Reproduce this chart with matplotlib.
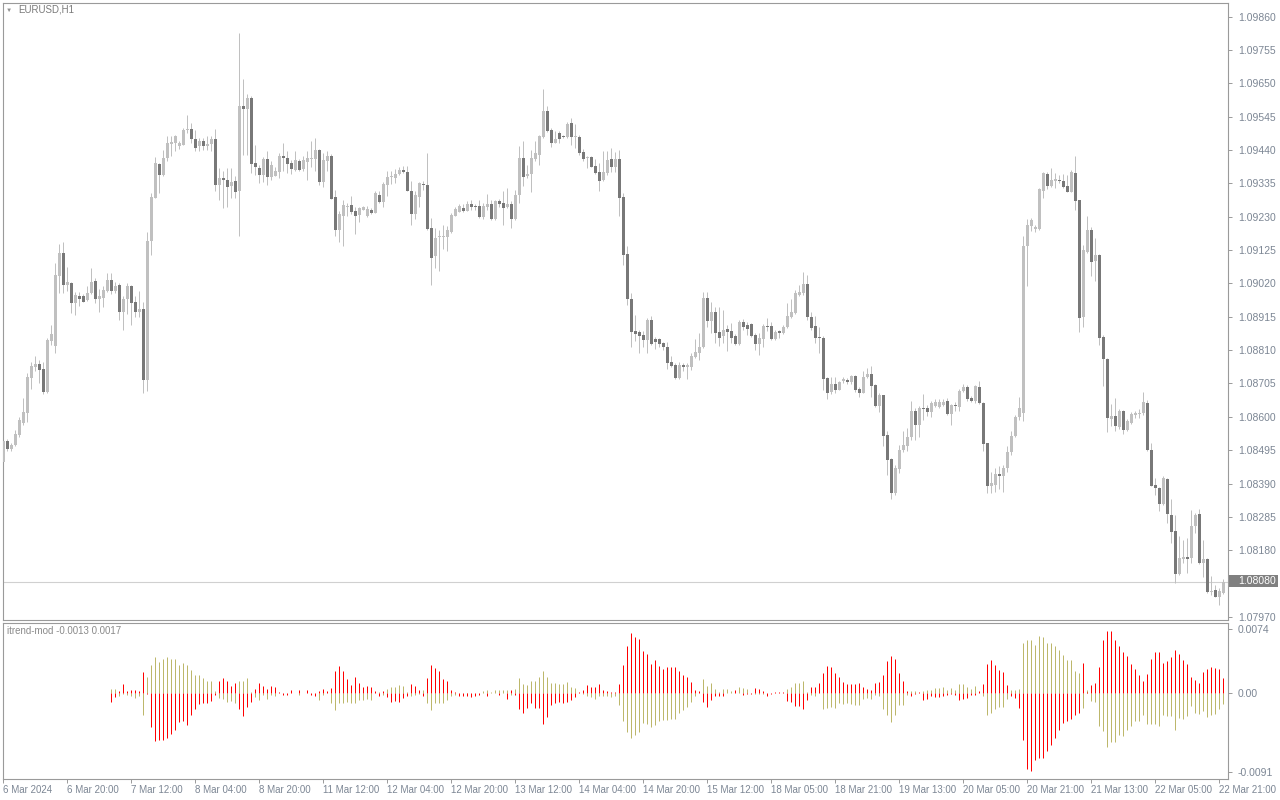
import numpy as np
import matplotlib
matplotlib.use("Agg")
import matplotlib.pyplot as plt

plt.rcParams['font.family'] = ['Liberation Sans', 'DejaVu Sans']

# EURUSD H1, barras de 6 Mar 2024 04:00 ate 22 Mar 2024 22:00
opens = [
    1.08458, 1.08524, 1.08499, 1.08512, 1.08543, 1.08581, 1.08613, 1.08723, 1.08758, 1.08767,
    1.08751, 1.08679, 1.08839, 1.08824, 1.09044, 1.09117, 1.09016, 1.09022, 1.08959, 1.08981,
    1.08981, 1.08969, 1.08991, 1.09028, 1.08972, 1.08975, 1.08997, 1.09032, 1.08997, 1.09016,
    1.08931, 1.08972, 1.09013, 1.08962, 1.08931, 1.08940, 1.08717, 1.09152, 1.09290, 1.09397,
    1.09362, 1.09416, 1.09460, 1.09463, 1.09451, 1.09457, 1.09504, 1.09507, 1.09476, 1.09451,
    1.09469, 1.09451, 1.09460, 1.09473, 1.09331, 1.09353, 1.09347, 1.09328, 1.09343, 1.09312,
    1.09577, 1.09570, 1.09605, 1.09400, 1.09384, 1.09362, 1.09413, 1.09356, 1.09359, 1.09372,
    1.09422, 1.09416, 1.09400, 1.09378, 1.09406, 1.09381, 1.09403, 1.09413, 1.09413, 1.09441,
    1.09340, 1.09406, 1.09422, 1.09293, 1.09189, 1.09233, 1.09262, 1.09268, 1.09249, 1.09236,
    1.09252, 1.09233, 1.09252, 1.09243, 1.09299, 1.09277, 1.09331, 1.09354, 1.09353, 1.09365,
    1.09378, 1.09372, 1.09312, 1.09239, 1.09293, 1.09334, 1.09331, 1.09195, 1.09107, 1.09167,
    1.09167, 1.09167, 1.09183, 1.09233, 1.09246, 1.09258, 1.09249, 1.09271, 1.09265, 1.09265,
    1.09230, 1.09262, 1.09271, 1.09224, 1.09280, 1.09274, 1.09262, 1.09271, 1.09224, 1.09299,
    1.09416, 1.09359, 1.09365, 1.09413, 1.09425, 1.09482, 1.09564, 1.09504, 1.09463, 1.09495,
    1.09485, 1.09482, 1.09526, 1.09482, 1.09482, 1.09435, 1.09416, 1.09419, 1.09391, 1.09372,
    1.09347, 1.09369, 1.09413, 1.09388, 1.09413, 1.09293, 1.09113, 1.08972, 1.08871, 1.08868,
    1.08858, 1.08843, 1.08906, 1.08846, 1.08846, 1.08833, 1.08821, 1.08773, 1.08764, 1.08723,
    1.08764, 1.08758, 1.08758, 1.08789, 1.08802, 1.08821, 1.08975, 1.08902, 1.08931, 1.08868,
    1.08855, 1.08877, 1.08871, 1.08855, 1.08830, 1.08899, 1.08890, 1.08893, 1.08858, 1.08830,
    1.08846, 1.08887, 1.08887, 1.08846, 1.08871, 1.08865, 1.08883, 1.08915, 1.08928, 1.08984,
    1.08991, 1.09019, 1.08915, 1.08887, 1.08852, 1.08849, 1.08723, 1.08679, 1.08704, 1.08685,
    1.08713, 1.08716, 1.08710, 1.08729, 1.08688, 1.08676, 1.08726, 1.08735, 1.08701, 1.08635,
    1.08669, 1.08543, 1.08468, 1.08361, 1.08436, 1.08496, 1.08509, 1.08537, 1.08619, 1.08575,
    1.08628, 1.08628, 1.08616, 1.08635, 1.08632, 1.08638, 1.08650, 1.08610, 1.08638, 1.08632,
    1.08682, 1.08695, 1.08660, 1.08650, 1.08695, 1.08644, 1.08518, 1.08383, 1.08386, 1.08420,
    1.08414, 1.08439, 1.08490, 1.08540, 1.08600, 1.08613, 1.09139, 1.09202, 1.09192, 1.09192,
    1.09312, 1.09365, 1.09328, 1.09343, 1.09347, 1.09343, 1.09328, 1.09309, 1.09369, 1.09284,
    1.08915, 1.09120, 1.09189, 1.09091, 1.09110, 1.08852, 1.08783, 1.08594, 1.08603, 1.08569,
    1.08619, 1.08559, 1.08581, 1.08606, 1.08610, 1.08613, 1.08644, 1.08496, 1.08386, 1.08376,
    1.08326, 1.08405, 1.08291, 1.08241, 1.08105, 1.08153, 1.08159, 1.08156, 1.08257, 1.08294,
    1.08140, 1.08153, 1.08049, 1.08055, 1.08033, 1.08046,
]
highs = [
    1.08534, 1.08531, 1.08517, 1.08559, 1.08601, 1.08659, 1.08738, 1.08774, 1.08791, 1.08780,
    1.08774, 1.08848, 1.08890, 1.09084, 1.09145, 1.09149, 1.09073, 1.09023, 1.08992, 1.08992,
    1.08987, 1.09013, 1.09068, 1.09037, 1.09002, 1.09011, 1.09053, 1.09053, 1.09026, 1.09021,
    1.08979, 1.09021, 1.09016, 1.08979, 1.08995, 1.08963, 1.09183, 1.09306, 1.09417, 1.09399,
    1.09441, 1.09483, 1.09485, 1.09488, 1.09469, 1.09509, 1.09551, 1.09525, 1.09504, 1.09478,
    1.09478, 1.09483, 1.09483, 1.09507, 1.09384, 1.09373, 1.09384, 1.09384, 1.09357, 1.09809,
    1.09662, 1.09617, 1.09609, 1.09455, 1.09394, 1.09417, 1.09436, 1.09404, 1.09388, 1.09431,
    1.09462, 1.09438, 1.09410, 1.09438, 1.09413, 1.09420, 1.09436, 1.09469, 1.09478, 1.09444,
    1.09431, 1.09436, 1.09428, 1.09315, 1.09247, 1.09284, 1.09273, 1.09296, 1.09262, 1.09262,
    1.09265, 1.09265, 1.09257, 1.09310, 1.09310, 1.09338, 1.09373, 1.09373, 1.09380, 1.09388,
    1.09391, 1.09391, 1.09341, 1.09310, 1.09338, 1.09341, 1.09431, 1.09226, 1.09194, 1.09189,
    1.09205, 1.09202, 1.09242, 1.09262, 1.09270, 1.09271, 1.09280, 1.09284, 1.09271, 1.09284,
    1.09273, 1.09302, 1.09284, 1.09284, 1.09286, 1.09312, 1.09320, 1.09278, 1.09315, 1.09451,
    1.09469, 1.09394, 1.09439, 1.09467, 1.09488, 1.09632, 1.09580, 1.09509, 1.09499, 1.09499,
    1.09488, 1.09527, 1.09541, 1.09523, 1.09488, 1.09443, 1.09422, 1.09422, 1.09413, 1.09399,
    1.09436, 1.09438, 1.09447, 1.09433, 1.09441, 1.09305, 1.09137, 1.08990, 1.08921, 1.08874,
    1.08869, 1.08911, 1.08916, 1.08851, 1.08848, 1.08837, 1.08837, 1.08792, 1.08769, 1.08774,
    1.08769, 1.08769, 1.08802, 1.08845, 1.08864, 1.08992, 1.08992, 1.08960, 1.08945, 1.08945,
    1.08937, 1.08890, 1.08895, 1.08861, 1.08906, 1.08908, 1.08897, 1.08895, 1.08864, 1.08864,
    1.08892, 1.08911, 1.08900, 1.08874, 1.08874, 1.08890, 1.08958, 1.08971, 1.09000, 1.09016,
    1.09055, 1.09047, 1.08929, 1.08916, 1.08884, 1.08853, 1.08727, 1.08727, 1.08727, 1.08714,
    1.08727, 1.08722, 1.08732, 1.08732, 1.08695, 1.08743, 1.08754, 1.08761, 1.08704, 1.08675,
    1.08669, 1.08554, 1.08470, 1.08449, 1.08512, 1.08554, 1.08564, 1.08651, 1.08627, 1.08633,
    1.08671, 1.08638, 1.08651, 1.08656, 1.08656, 1.08656, 1.08659, 1.08641, 1.08648, 1.08687,
    1.08704, 1.08701, 1.08666, 1.08701, 1.08714, 1.08648, 1.08519, 1.08425, 1.08438, 1.08446,
    1.08449, 1.08509, 1.08554, 1.08606, 1.08664, 1.09170, 1.09223, 1.09226, 1.09205, 1.09320,
    1.09370, 1.09370, 1.09384, 1.09368, 1.09362, 1.09365, 1.09362, 1.09376, 1.09422, 1.09284,
    1.09142, 1.09231, 1.09198, 1.09163, 1.09114, 1.08858, 1.08785, 1.08641, 1.08659, 1.08624,
    1.08622, 1.08593, 1.08614, 1.08619, 1.08624, 1.08677, 1.08654, 1.08519, 1.08407, 1.08379,
    1.08414, 1.08407, 1.08341, 1.08291, 1.08225, 1.08213, 1.08218, 1.08307, 1.08297, 1.08309,
    1.08213, 1.08155, 1.08099, 1.08071, 1.08060, 1.08090,
]
lows = [
    1.08433, 1.08494, 1.08491, 1.08509, 1.08538, 1.08575, 1.08585, 1.08687, 1.08743, 1.08706,
    1.08671, 1.08675, 1.08827, 1.08802, 1.08990, 1.08990, 1.08997, 1.08927, 1.08921, 1.08950,
    1.08960, 1.08966, 1.08987, 1.08958, 1.08929, 1.08947, 1.08992, 1.08987, 1.08990, 1.08906,
    1.08872, 1.08924, 1.08890, 1.08914, 1.08914, 1.08675, 1.08682, 1.09110, 1.09289, 1.09305,
    1.09357, 1.09404, 1.09420, 1.09436, 1.09444, 1.09455, 1.09494, 1.09462, 1.09436, 1.09436,
    1.09441, 1.09441, 1.09436, 1.09310, 1.09284, 1.09257, 1.09259, 1.09289, 1.09289, 1.09168,
    1.09425, 1.09425, 1.09368, 1.09362, 1.09336, 1.09339, 1.09331, 1.09347, 1.09357, 1.09352,
    1.09373, 1.09368, 1.09365, 1.09373, 1.09373, 1.09373, 1.09347, 1.09388, 1.09373, 1.09331,
    1.09322, 1.09373, 1.09286, 1.09170, 1.09149, 1.09139, 1.09233, 1.09239, 1.09176, 1.09212,
    1.09250, 1.09229, 1.09239, 1.09242, 1.09273, 1.09261, 1.09294, 1.09334, 1.09336, 1.09362,
    1.09368, 1.09310, 1.09205, 1.09223, 1.09262, 1.09315, 1.09189, 1.09016, 1.09068, 1.09058,
    1.09128, 1.09121, 1.09179, 1.09231, 1.09244, 1.09244, 1.09247, 1.09252, 1.09250, 1.09225,
    1.09223, 1.09250, 1.09221, 1.09221, 1.09262, 1.09203, 1.09257, 1.09194, 1.09221, 1.09273,
    1.09328, 1.09352, 1.09307, 1.09404, 1.09394, 1.09478, 1.09496, 1.09448, 1.09462, 1.09462,
    1.09478, 1.09478, 1.09457, 1.09446, 1.09425, 1.09404, 1.09383, 1.09387, 1.09365, 1.09310,
    1.09341, 1.09362, 1.09370, 1.09370, 1.09233, 1.09079, 1.08953, 1.08821, 1.08840, 1.08802,
    1.08821, 1.08802, 1.08827, 1.08813, 1.08821, 1.08811, 1.08750, 1.08757, 1.08718, 1.08720,
    1.08743, 1.08720, 1.08748, 1.08785, 1.08780, 1.08816, 1.08884, 1.08864, 1.08834, 1.08824,
    1.08832, 1.08806, 1.08834, 1.08827, 1.08827, 1.08874, 1.08858, 1.08851, 1.08811, 1.08795,
    1.08819, 1.08869, 1.08843, 1.08843, 1.08848, 1.08861, 1.08879, 1.08911, 1.08924, 1.08979,
    1.08984, 1.08906, 1.08874, 1.08832, 1.08802, 1.08685, 1.08656, 1.08672, 1.08675, 1.08683,
    1.08708, 1.08704, 1.08704, 1.08677, 1.08662, 1.08675, 1.08722, 1.08664, 1.08632, 1.08614,
    1.08509, 1.08417, 1.08341, 1.08354, 1.08423, 1.08488, 1.08491, 1.08528, 1.08528, 1.08538,
    1.08591, 1.08603, 1.08601, 1.08631, 1.08628, 1.08633, 1.08606, 1.08575, 1.08617, 1.08617,
    1.08677, 1.08651, 1.08646, 1.08643, 1.08641, 1.08491, 1.08360, 1.08360, 1.08362, 1.08372,
    1.08365, 1.08428, 1.08480, 1.08538, 1.08591, 1.08588, 1.09013, 1.09184, 1.09181, 1.09189,
    1.09289, 1.09317, 1.09324, 1.09321, 1.09336, 1.09321, 1.09309, 1.09307, 1.09250, 1.08866,
    1.08884, 1.09116, 1.09042, 1.09029, 1.08827, 1.08698, 1.08551, 1.08572, 1.08554, 1.08561,
    1.08547, 1.08557, 1.08578, 1.08596, 1.08596, 1.08606, 1.08491, 1.08381, 1.08354, 1.08304,
    1.08323, 1.08267, 1.08202, 1.08076, 1.08103, 1.08139, 1.08108, 1.08139, 1.08234, 1.08138,
    1.08097, 1.08047, 1.08039, 1.08032, 1.08008, 1.08043,
]
closes = [
    1.08524, 1.08499, 1.08512, 1.08546, 1.08591, 1.08616, 1.08726, 1.08761, 1.08767, 1.08748,
    1.08679, 1.08843, 1.08861, 1.09047, 1.09117, 1.09016, 1.09025, 1.08959, 1.08984, 1.08972,
    1.08962, 1.08991, 1.09025, 1.08972, 1.08981, 1.09000, 1.09032, 1.08997, 1.09013, 1.08931,
    1.08972, 1.09013, 1.08959, 1.08931, 1.08940, 1.08717, 1.09152, 1.09293, 1.09400, 1.09362,
    1.09416, 1.09463, 1.09466, 1.09485, 1.09463, 1.09504, 1.09507, 1.09473, 1.09447, 1.09469,
    1.09451, 1.09460, 1.09476, 1.09331, 1.09353, 1.09347, 1.09325, 1.09340, 1.09309, 1.09577,
    1.09570, 1.09605, 1.09397, 1.09388, 1.09362, 1.09413, 1.09356, 1.09394, 1.09375, 1.09422,
    1.09416, 1.09397, 1.09381, 1.09410, 1.09378, 1.09410, 1.09416, 1.09416, 1.09441, 1.09340,
    1.09410, 1.09422, 1.09287, 1.09189, 1.09239, 1.09268, 1.09265, 1.09246, 1.09233, 1.09258,
    1.09262, 1.09255, 1.09243, 1.09306, 1.09277, 1.09334, 1.09356, 1.09356, 1.09365, 1.09378,
    1.09372, 1.09312, 1.09239, 1.09299, 1.09337, 1.09331, 1.09192, 1.09101, 1.09164, 1.09170,
    1.09170, 1.09189, 1.09236, 1.09255, 1.09265, 1.09249, 1.09271, 1.09262, 1.09262, 1.09230,
    1.09265, 1.09271, 1.09224, 1.09280, 1.09271, 1.09258, 1.09271, 1.09224, 1.09299, 1.09416,
    1.09356, 1.09365, 1.09416, 1.09432, 1.09485, 1.09564, 1.09501, 1.09463, 1.09473, 1.09476,
    1.09482, 1.09523, 1.09482, 1.09483, 1.09432, 1.09413, 1.09419, 1.09388, 1.09369, 1.09343,
    1.09372, 1.09410, 1.09388, 1.09413, 1.09290, 1.09110, 1.08972, 1.08868, 1.08861, 1.08855,
    1.08843, 1.08906, 1.08830, 1.08836, 1.08830, 1.08821, 1.08770, 1.08761, 1.08723, 1.08764,
    1.08758, 1.08764, 1.08792, 1.08805, 1.08821, 1.08975, 1.08902, 1.08931, 1.08865, 1.08849,
    1.08874, 1.08868, 1.08849, 1.08830, 1.08899, 1.08883, 1.08877, 1.08855, 1.08830, 1.08849,
    1.08887, 1.08883, 1.08846, 1.08868, 1.08865, 1.08883, 1.08918, 1.08931, 1.08991, 1.08994,
    1.09019, 1.08915, 1.08880, 1.08849, 1.08849, 1.08720, 1.08676, 1.08704, 1.08685, 1.08710,
    1.08720, 1.08710, 1.08729, 1.08685, 1.08676, 1.08726, 1.08735, 1.08698, 1.08635, 1.08669,
    1.08540, 1.08465, 1.08361, 1.08439, 1.08496, 1.08512, 1.08537, 1.08619, 1.08575, 1.08628,
    1.08625, 1.08616, 1.08644, 1.08647, 1.08647, 1.08647, 1.08610, 1.08638, 1.08635, 1.08682,
    1.08695, 1.08657, 1.08650, 1.08698, 1.08644, 1.08515, 1.08383, 1.08392, 1.08420, 1.08414,
    1.08439, 1.08490, 1.08540, 1.08600, 1.08628, 1.09139, 1.09205, 1.09221, 1.09198, 1.09318,
    1.09369, 1.09328, 1.09347, 1.09350, 1.09343, 1.09325, 1.09309, 1.09372, 1.09280, 1.08912,
    1.09126, 1.09189, 1.09088, 1.09110, 1.08849, 1.08783, 1.08597, 1.08603, 1.08572, 1.08619,
    1.08559, 1.08587, 1.08610, 1.08613, 1.08613, 1.08647, 1.08496, 1.08383, 1.08376, 1.08326,
    1.08408, 1.08294, 1.08238, 1.08105, 1.08156, 1.08159, 1.08153, 1.08257, 1.08291, 1.08140,
    1.08153, 1.08049, 1.08052, 1.08033, 1.08052, 1.08080,
]

# itrend-mod: os dois buffers, a partir da barra 27
ind_start = 27
ind_red = [
    -0.0010, -0.0005, 0.0002, 0.0010, 0.0002, 0.0004, 0.0003, 0.0002, 0.0024, -0.0001,
    -0.0039, -0.0056, -0.0054, -0.0054, -0.0052, -0.0047, -0.0043, -0.0034, -0.0033, -0.0037,
    -0.0026, -0.0019, -0.0013, -0.0012, -0.0011, -0.0009, -0.0002, 0.0014, 0.0017, 0.0014,
    0.0008, 0.0012, -0.0019, -0.0027, -0.0016, -0.0010, 0.0005, 0.0012, 0.0008, 0.0005,
    0.0008, 0.0007, 0.0001, -0.0002, -0.0002, 0.0003, 0.0000, 0.0003, 0.0000, 0.0003,
    -0.0002, -0.0003, 0.0002, 0.0005, 0.0002, 0.0006, 0.0025, 0.0031, 0.0026, 0.0016,
    0.0009, 0.0018, 0.0012, 0.0007, 0.0008, 0.0007, 0.0002, -0.0003, 0.0002, -0.0005,
    -0.0010, -0.0009, -0.0010, -0.0006, -0.0004, 0.0010, 0.0008, 0.0003, -0.0003, 0.0017,
    0.0032, 0.0029, 0.0025, 0.0016, 0.0014, 0.0003, 0.0001, -0.0004, -0.0003, -0.0003,
    -0.0005, -0.0004, -0.0002, 0.0000, -0.0004, 0.0000, 0.0000, -0.0002, 0.0000, -0.0007,
    0.0004, -0.0002, -0.0019, -0.0023, -0.0017, -0.0011, -0.0017, -0.0017, -0.0036, -0.0028,
    -0.0014, -0.0011, -0.0010, -0.0011, -0.0010, -0.0008, -0.0005, 0.0001, 0.0004, 0.0009,
    0.0007, 0.0007, 0.0010, 0.0004, 0.0002, 0.0001, 0.0001, 0.0010, 0.0033, 0.0054,
    0.0070, 0.0065, 0.0063, 0.0049, 0.0045, 0.0034, 0.0038, 0.0031, 0.0028, 0.0030,
    0.0030, 0.0030, 0.0026, 0.0021, 0.0019, 0.0013, 0.0003, 0.0002, -0.0010, -0.0016,
    -0.0008, -0.0003, -0.0003, -0.0003, 0.0000, 0.0000, 0.0003, 0.0000, -0.0002, -0.0001,
    -0.0001, 0.0006, 0.0005, 0.0002, -0.0003, -0.0001, 0.0001, 0.0001, 0.0001, -0.0009,
    -0.0010, -0.0015, -0.0015, -0.0019, -0.0008, 0.0007, 0.0007, 0.0012, 0.0023, 0.0031,
    0.0030, 0.0023, 0.0018, 0.0013, 0.0011, 0.0010, 0.0010, 0.0012, 0.0007, 0.0005,
    0.0004, 0.0012, 0.0013, 0.0021, 0.0037, 0.0043, 0.0039, 0.0023, 0.0014, 0.0002,
    -0.0003, -0.0001, 0.0001, -0.0008, -0.0007, -0.0004, -0.0005, -0.0005, -0.0004, -0.0002,
    -0.0001, -0.0002, -0.0008, -0.0007, -0.0006, -0.0002, -0.0002, 0.0002, 0.0011, 0.0034,
    0.0038, 0.0033, 0.0027, 0.0024, 0.0009, -0.0003, -0.0006, -0.0017, -0.0054, -0.0088,
    -0.0090, -0.0078, -0.0075, -0.0075, -0.0067, -0.0060, -0.0052, -0.0043, -0.0035, -0.0032,
    -0.0030, -0.0025, -0.0023, 0.0035, 0.0001, 0.0009, 0.0012, 0.0030, 0.0062, 0.0072,
    0.0072, 0.0061, 0.0055, 0.0048, 0.0043, 0.0034, 0.0028, 0.0021, 0.0014, 0.0022,
    0.0039, 0.0047, 0.0047, 0.0035, 0.0037, 0.0042, 0.0050, 0.0045, 0.0038, 0.0034,
    0.0018, 0.0015, 0.0012, 0.0024, 0.0028, 0.0030, 0.0029, 0.0028, 0.0017,
]
ind_khaki = [
    0.0005, 0.0005, -0.0004, -0.0001, -0.0002, -0.0004, -0.0006, -0.0004, -0.0026, 0.0018,
    0.0032, 0.0042, 0.0036, 0.0039, 0.0042, 0.0039, 0.0039, 0.0033, 0.0035, 0.0033,
    0.0027, 0.0021, 0.0021, 0.0017, 0.0014, 0.0014, 0.0002, -0.0006, -0.0007, -0.0010,
    -0.0009, -0.0012, 0.0014, 0.0014, 0.0017, 0.0001, -0.0005, -0.0008, -0.0002, -0.0007,
    -0.0002, -0.0004, 0.0000, 0.0000, 0.0000, 0.0000, 0.0000, -0.0002, 0.0000, 0.0000,
    0.0000, 0.0000, -0.0008, -0.0002, 0.0000, -0.0011, -0.0020, -0.0012, -0.0011, -0.0010,
    -0.0011, -0.0012, -0.0008, -0.0008, -0.0007, -0.0008, 0.0000, 0.0001, -0.0002, 0.0005,
    0.0007, 0.0007, 0.0009, 0.0008, 0.0001, -0.0004, -0.0002, -0.0001, 0.0003, -0.0011,
    -0.0020, -0.0012, -0.0012, -0.0011, -0.0008, -0.0004, -0.0002, 0.0000, 0.0000, -0.0001,
    0.0000, 0.0000, 0.0000, 0.0002, 0.0003, 0.0001, 0.0004, 0.0004, 0.0003, 0.0003,
    -0.0002, 0.0005, 0.0017, 0.0010, 0.0009, 0.0014, 0.0014, 0.0018, 0.0026, 0.0018,
    0.0012, 0.0012, 0.0010, 0.0010, 0.0013, 0.0007, 0.0006, 0.0000, -0.0001, -0.0003,
    -0.0005, -0.0007, -0.0003, -0.0004, -0.0004, -0.0005, -0.0003, -0.0014, -0.0032, -0.0045,
    -0.0052, -0.0049, -0.0045, -0.0035, -0.0036, -0.0039, -0.0037, -0.0032, -0.0031, -0.0031,
    -0.0030, -0.0030, -0.0023, -0.0020, -0.0016, -0.0010, -0.0004, 0.0000, 0.0016, 0.0008,
    0.0012, 0.0005, 0.0001, 0.0005, 0.0005, 0.0002, 0.0000, 0.0007, 0.0006, 0.0005,
    0.0000, -0.0001, -0.0001, -0.0001, 0.0000, 0.0000, 0.0000, 0.0000, 0.0000, 0.0005,
    0.0007, 0.0012, 0.0012, 0.0014, 0.0001, -0.0002, -0.0003, 0.0000, -0.0019, -0.0017,
    -0.0016, -0.0017, -0.0012, -0.0013, -0.0012, -0.0013, -0.0014, -0.0014, -0.0007, -0.0006,
    -0.0007, -0.0002, -0.0004, -0.0019, -0.0025, -0.0034, -0.0025, -0.0014, -0.0014, -0.0002,
    0.0002, 0.0002, 0.0000, 0.0002, 0.0003, 0.0004, 0.0006, 0.0006, 0.0007, 0.0004,
    0.0006, 0.0003, 0.0011, 0.0011, 0.0007, 0.0005, 0.0008, 0.0000, -0.0003, -0.0025,
    -0.0023, -0.0019, -0.0016, -0.0016, -0.0007, 0.0003, 0.0004, 0.0005, 0.0058, 0.0062,
    0.0062, 0.0056, 0.0066, 0.0065, 0.0058, 0.0058, 0.0055, 0.0050, 0.0044, 0.0038,
    0.0038, 0.0025, 0.0023, -0.0017, 0.0004, -0.0009, -0.0010, -0.0038, -0.0044, -0.0062,
    -0.0057, -0.0057, -0.0049, -0.0050, -0.0043, -0.0038, -0.0033, -0.0032, -0.0025, -0.0036,
    -0.0036, -0.0036, -0.0038, -0.0025, -0.0027, -0.0027, -0.0043, -0.0029, -0.0030, -0.0027,
    -0.0015, -0.0023, -0.0024, -0.0021, -0.0028, -0.0025, -0.0024, -0.0019, -0.0013,
]

price_ticks = [1.09860, 1.09755, 1.09650, 1.09545, 1.09440, 1.09335, 1.09230, 1.09125,
               1.09020, 1.08915, 1.08810, 1.08705, 1.08600, 1.08495, 1.08390, 1.08285,
               1.08180, 1.07970]
last_price = 1.08080
ind_ticks = [0.0074, 0.0, -0.0091]
ind_tick_labels = ["0.0074", "0.00", "-0.0091"]
time_labels = ["6 Mar 2024", "6 Mar 20:00", "7 Mar 12:00", "8 Mar 04:00", "8 Mar 20:00",
               "11 Mar 12:00", "12 Mar 04:00", "12 Mar 20:00", "13 Mar 12:00", "14 Mar 04:00",
               "14 Mar 20:00", "15 Mar 12:00", "18 Mar 05:00", "18 Mar 21:00", "19 Mar 13:00",
               "20 Mar 05:00", "20 Mar 21:00", "21 Mar 13:00", "22 Mar 05:00", "22 Mar 21:00"]
time_step = 16  # barras entre rotulos

# cores
bull_col = '#c0c0c0'
bear_col = '#787878'
wick_col = '#c0c0c0'
frame_col = '#9a9a9a'
text_col = '#7c8694'

W, H = 1280, 800


def box(x0, y0, x1, y1):
    return [x0 / W, 1 - y1 / H, (x1 - x0) / W, (y1 - y0) / H]


fig = plt.figure(figsize=(W / 100, H / 100), dpi=100)
fig.patch.set_facecolor('white')
ax = fig.add_axes(box(2.5, 2.5, 1228, 620))
ax2 = fig.add_axes(box(2.5, 622.5, 1228, 779))

o = np.array(opens)
h = np.array(highs)
l = np.array(lows)
c = np.array(closes)
h = np.maximum(h, np.maximum(o, c))
l = np.minimum(l, np.minimum(o, c))
x = np.arange(len(c))
up = c >= o

# ------------------------------
# velas
# ------------------------------
ax.vlines(x, l, h, color=wick_col, lw=0.72, zorder=2)
body_lo = np.minimum(o, c)
body_h = np.maximum(np.abs(c - o), 0.00003)
ax.bar(x[up], body_h[up], bottom=body_lo[up], width=0.75, color=bull_col,
       lw=0, antialiased=False, zorder=3)
ax.bar(x[~up], body_h[~up], bottom=body_lo[~up], width=0.75, color=bear_col,
       lw=0, antialiased=False, zorder=3)
ax.axhline(last_price, color='#d0d0d0', lw=0.8, zorder=1)

xlim = (-0.125, 306.125)
ax.set_xlim(*xlim)
ax.set_ylim(1.079606, 1.099042)
ax.set_xticks([])
ax.yaxis.tick_right()
ax.set_yticks(price_ticks)
ax.set_yticklabels([f"{v:.5f}" for v in price_ticks])
ax.tick_params(axis='y', length=3, width=0.7, color=frame_col, labelcolor=text_col,
               labelsize=7.5, pad=4)

# etiqueta do preco atual
fig.add_artist(plt.Rectangle((1229 / W, 1 - 587 / H), 49 / W, 12 / H,
                             transform=fig.transFigure, fc='#808080', ec='none'))
fig.text(1238 / W, 1 - 581.5 / H, f"{last_price:.5f}", color='white', fontsize=7.5,
         va='center', ha='left')

# ------------------------------
# indicador
# ------------------------------
xi = np.arange(ind_start, ind_start + len(ind_red))
ax2.vlines(xi, 0, ind_khaki, color='#bdb76b', lw=0.72)
ax2.vlines(xi, 0, ind_red, color='#ff0000', lw=0.72)
ax2.set_xlim(*xlim)
ax2.set_ylim(-0.009967, 0.008176)
ax2.yaxis.tick_right()
ax2.set_yticks(ind_ticks)
ax2.set_yticklabels(ind_tick_labels)
ax2.tick_params(axis='y', length=3, width=0.7, color=frame_col, labelcolor=text_col,
                labelsize=7.5, pad=4)
ax2.set_xticks(np.arange(len(time_labels)) * time_step)
ax2.set_xticklabels(time_labels)
for t in ax2.get_xticklabels():
    t.set_ha('left')
ax2.tick_params(axis='x', length=3, width=0.7, color=frame_col, labelcolor=text_col,
                labelsize=7, pad=1)

for a in (ax, ax2):
    for s in a.spines.values():
        s.set_color(frame_col)
        s.set_linewidth(0.8)

fig.text(6 / W, 1 - 10 / H, "\u25bc", fontsize=4.5, color='#909090', va='center')
fig.text(18 / W, 1 - 10 / H, "EURUSD,H1", fontsize=7, color='#7a7a7a', va='center')
fig.text(7 / W, 1 - 631 / H, "itrend-mod -0.0013 0.0017", fontsize=7, color='#8a8a8a',
         va='center')

fig.savefig("out.png", dpi=100, facecolor='white')
